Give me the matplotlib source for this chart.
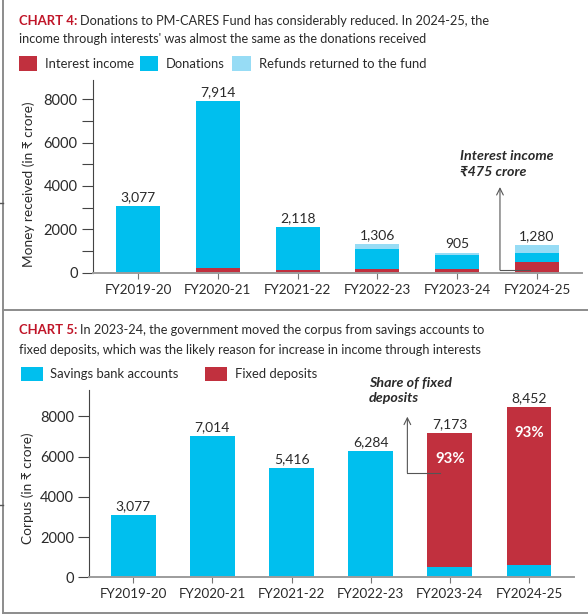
import matplotlib
matplotlib.use('Agg')
import matplotlib.pyplot as plt
from matplotlib.patches import Rectangle
from matplotlib.lines import Line2D
import numpy as np

plt.rcParams['font.family'] = ['Lato', 'DejaVu Sans']

# ---------------- data ----------------
years = ['FY2019-20', 'FY2020-21', 'FY2021-22', 'FY2022-23', 'FY2023-24', 'FY2024-25']

# Chart 4: money received (₹ crore)
interest_income = [0, 235, 130, 170, 150, 475]
donations = [3077, 7679, 1988, 910, 665, 450]
refunds = [0, 0, 0, 226, 90, 355]
totals4 = [3077, 7914, 2118, 1306, 905, 1280]
series4 = ['Interest income', 'Donations', 'Refunds returned to the fund']
yticks4 = [0, 1000, 2000, 3000, 4000, 5000, 6000, 7000, 8000]
ylabels4 = ['0', '', '2000', '', '4000', '', '6000', '', '8000']

# Chart 5: corpus (₹ crore)
savings = [3077, 7014, 5416, 6284, 502, 592]
fixed = [0, 0, 0, 0, 6671, 7860]
totals5 = [3077, 7014, 5416, 6284, 7173, 8452]
fixed_share = ['', '', '', '', '93%', '93%']
series5 = ['Savings bank accounts', 'Fixed deposits']
yticks5 = [0, 2000, 4000, 6000, 8000]
ylabels5 = ['0', '2000', '4000', '6000', '8000']

# ---------------- style ----------------
RED = '#C1303E'
BLUE = '#00BFEE'
LIGHT = '#97DCF5'
TITLE_RED = '#C01528'
TEXT = '#2a2a2a'
BORDER = '#8c8c8c'
TFS = 9.15

W, H = 588, 614
fig = plt.figure(figsize=(W / 100, H / 100), dpi=100)


def fx(x):
    return x / W


def fy(y):
    return 1 - y / H


def ax_rect(l, t, r, b):
    return [l / W, 1 - b / H, (r - l) / W, (b - t) / H]


def title(y_base1, y_base2, bold, rest1, line2):
    t1 = fig.text(fx(19), fy(y_base1), bold, color=TITLE_RED, fontsize=TFS + 0.3,
                  fontweight='bold', va='baseline', ha='left')
    fig.canvas.draw()
    bb = t1.get_window_extent()
    fig.text((bb.x1 + 3) / W, fy(y_base1), rest1, color=TEXT, fontsize=TFS,
             va='baseline', ha='left')
    fig.text(fx(19), fy(y_base2), line2, color=TEXT, fontsize=TFS,
             va='baseline', ha='left')


def legend(items, yc, hgt):
    for (x0, x1, tx, label, col) in items:
        fig.add_artist(Rectangle((fx(x0), fy(yc + hgt / 2)), (x1 - x0) / W, hgt / H,
                                 transform=fig.transFigure, color=col, lw=0))
        fig.text(fx(tx), fy(yc), label, color=TEXT, fontsize=9.4, va='center', ha='left')


def style_axes(ax):
    for s in ['top', 'right']:
        ax.spines[s].set_visible(False)
    ax.spines['left'].set_color('#444444')
    ax.spines['left'].set_linewidth(0.8)
    ax.spines['bottom'].set_color('#9c9c9c')
    ax.spines['bottom'].set_linewidth(1.4)
    ax.tick_params(axis='y', length=8, width=0.8, color='#444444', labelsize=10.5,
                   labelcolor=TEXT, pad=3)
    ax.tick_params(axis='x', length=4, width=0.8, color='#777777', labelsize=9.6,
                   labelcolor=TEXT, pad=4)


# ---------------- borders ----------------
fig.add_artist(Line2D([fx(2.7), fx(2.7)], [fy(0), fy(612.5)], transform=fig.transFigure,
                      color=BORDER, lw=1.4))
fig.add_artist(Line2D([fx(2.7), fx(588)], [fy(310), fy(310)], transform=fig.transFigure,
                      color=BORDER, lw=1.4))
fig.add_artist(Line2D([fx(2.7), fx(588)], [fy(612.5), fy(612.5)], transform=fig.transFigure,
                      color=BORDER, lw=1.4))
fig.add_artist(Line2D([fx(0), fx(3)], [fy(203), fy(203)], transform=fig.transFigure,
                      color='#555555', lw=1))
fig.add_artist(Line2D([fx(0), fx(3)], [fy(505), fy(505)], transform=fig.transFigure,
                      color='#555555', lw=1))

# ---------------- chart 4 ----------------
title(25, 43, 'CHART 4:',
      'Donations to PM-CARES Fund has considerably reduced. In 2024-25, the',
      "income through interests' was almost the same as the donations received")
legend([(19, 37, 45, series4[0], RED),
        (140, 158, 166, series4[1], BLUE),
        (232, 251, 259, series4[2], LIGHT)], 63.5, 15)

ax1 = fig.add_axes(ax_rect(93, 80, 582, 272.7))
x = np.arange(len(years))
ii = np.array(interest_income)
dd = np.array(donations)
rr = np.array(refunds)
ax1.bar(x, ii, width=0.55, color=RED, lw=0)
ax1.bar(x, dd, width=0.55, bottom=ii, color=BLUE, lw=0)
ax1.bar(x, rr, width=0.55, bottom=ii + dd, color=LIGHT, lw=0)
ax1.set_xlim(-0.564, 5.564)
ax1.set_ylim(0, 8890)
ax1.set_xticks(x)
ax1.set_xticklabels(years)
ax1.set_yticks(yticks4)
ax1.set_yticklabels(ylabels4)
style_axes(ax1)
for i, t in enumerate(totals4):
    ax1.annotate(f'{t:,}', (i, t), xytext=(0, 2), textcoords='offset points',
                 ha='center', va='bottom', fontsize=10, color=TEXT)
fig.text(fx(29), fy(184), 'Money received (in ₹ crore)', rotation=90, ha='center',
         va='center', fontsize=9.8, color=TEXT)
# annotation
ax1.plot([4.536, 4.912], [124, 124], color='#555555', lw=0.8, zorder=5)
ax1.annotate('', xy=(4.536, 3950), xytext=(4.536, 124),
             arrowprops=dict(arrowstyle='->', color='#555555', lw=0.8,
                             shrinkA=0, shrinkB=0, mutation_scale=12))
fig.text(fx(460), fy(159.5), 'Interest income', fontsize=10.3, fontweight='bold',
         fontstyle='italic', color=TEXT, va='baseline', ha='left')
fig.text(fx(460), fy(175.5), '₹475 crore', fontsize=10.3, fontweight='bold',
         fontstyle='italic', color=TEXT, va='baseline', ha='left')

# ---------------- chart 5 ----------------
title(334.3, 353.5, 'CHART 5:',
      'In 2023-24, the government moved the corpus from savings accounts to',
      'fixed deposits, which was the likely reason for increase in income through interests')
legend([(21, 42.5, 50, series5[0], BLUE),
        (205, 226.5, 235, series5[1], RED)], 374, 14)

ax2 = fig.add_axes(ax_rect(89.3, 390, 574, 577.3))
ss = np.array(savings)
ff = np.array(fixed)
ax2.bar(x, ss, width=0.565, color=BLUE, lw=0)
ax2.bar(x, ff, width=0.565, bottom=ss, color=RED, lw=0)
ax2.set_xlim(-0.556, 5.57)
ax2.set_ylim(0, 9307)
ax2.set_xticks(x)
ax2.set_xticklabels(years)
ax2.set_yticks(yticks5)
ax2.set_yticklabels(ylabels5)
style_axes(ax2)
for i, t in enumerate(totals5):
    ax2.annotate(f'{t:,}', (i, t), xytext=(0, 2), textcoords='offset points',
                 ha='center', va='bottom', fontsize=10, color=TEXT)
    if fixed_share[i]:
        ax2.annotate(fixed_share[i], (i, t), xytext=(0, -18.7), textcoords='offset points',
                     ha='center', va='center', fontsize=10.8, fontweight='bold', color='white')
fig.text(fx(28), fy(488), 'Corpus (in ₹ crore)', rotation=90, ha='center',
         va='center', fontsize=9.8, color=TEXT)
ax2.plot([3.464, 3.877], [5198, 5198], color='#555555', lw=0.8, zorder=5)
ax2.annotate('', xy=(3.464, 7980), xytext=(3.464, 5198),
             arrowprops=dict(arrowstyle='->', color='#555555', lw=0.8,
                             shrinkA=0, shrinkB=0, mutation_scale=12))
fig.text(fx(369), fy(386.7), 'Share of fixed', fontsize=10.3, fontweight='bold',
         fontstyle='italic', color=TEXT, va='baseline', ha='left')
fig.text(fx(369), fy(401.5), 'deposits', fontsize=10.3, fontweight='bold',
         fontstyle='italic', color=TEXT, va='baseline', ha='left')

fig.savefig('out.png', dpi=100)
